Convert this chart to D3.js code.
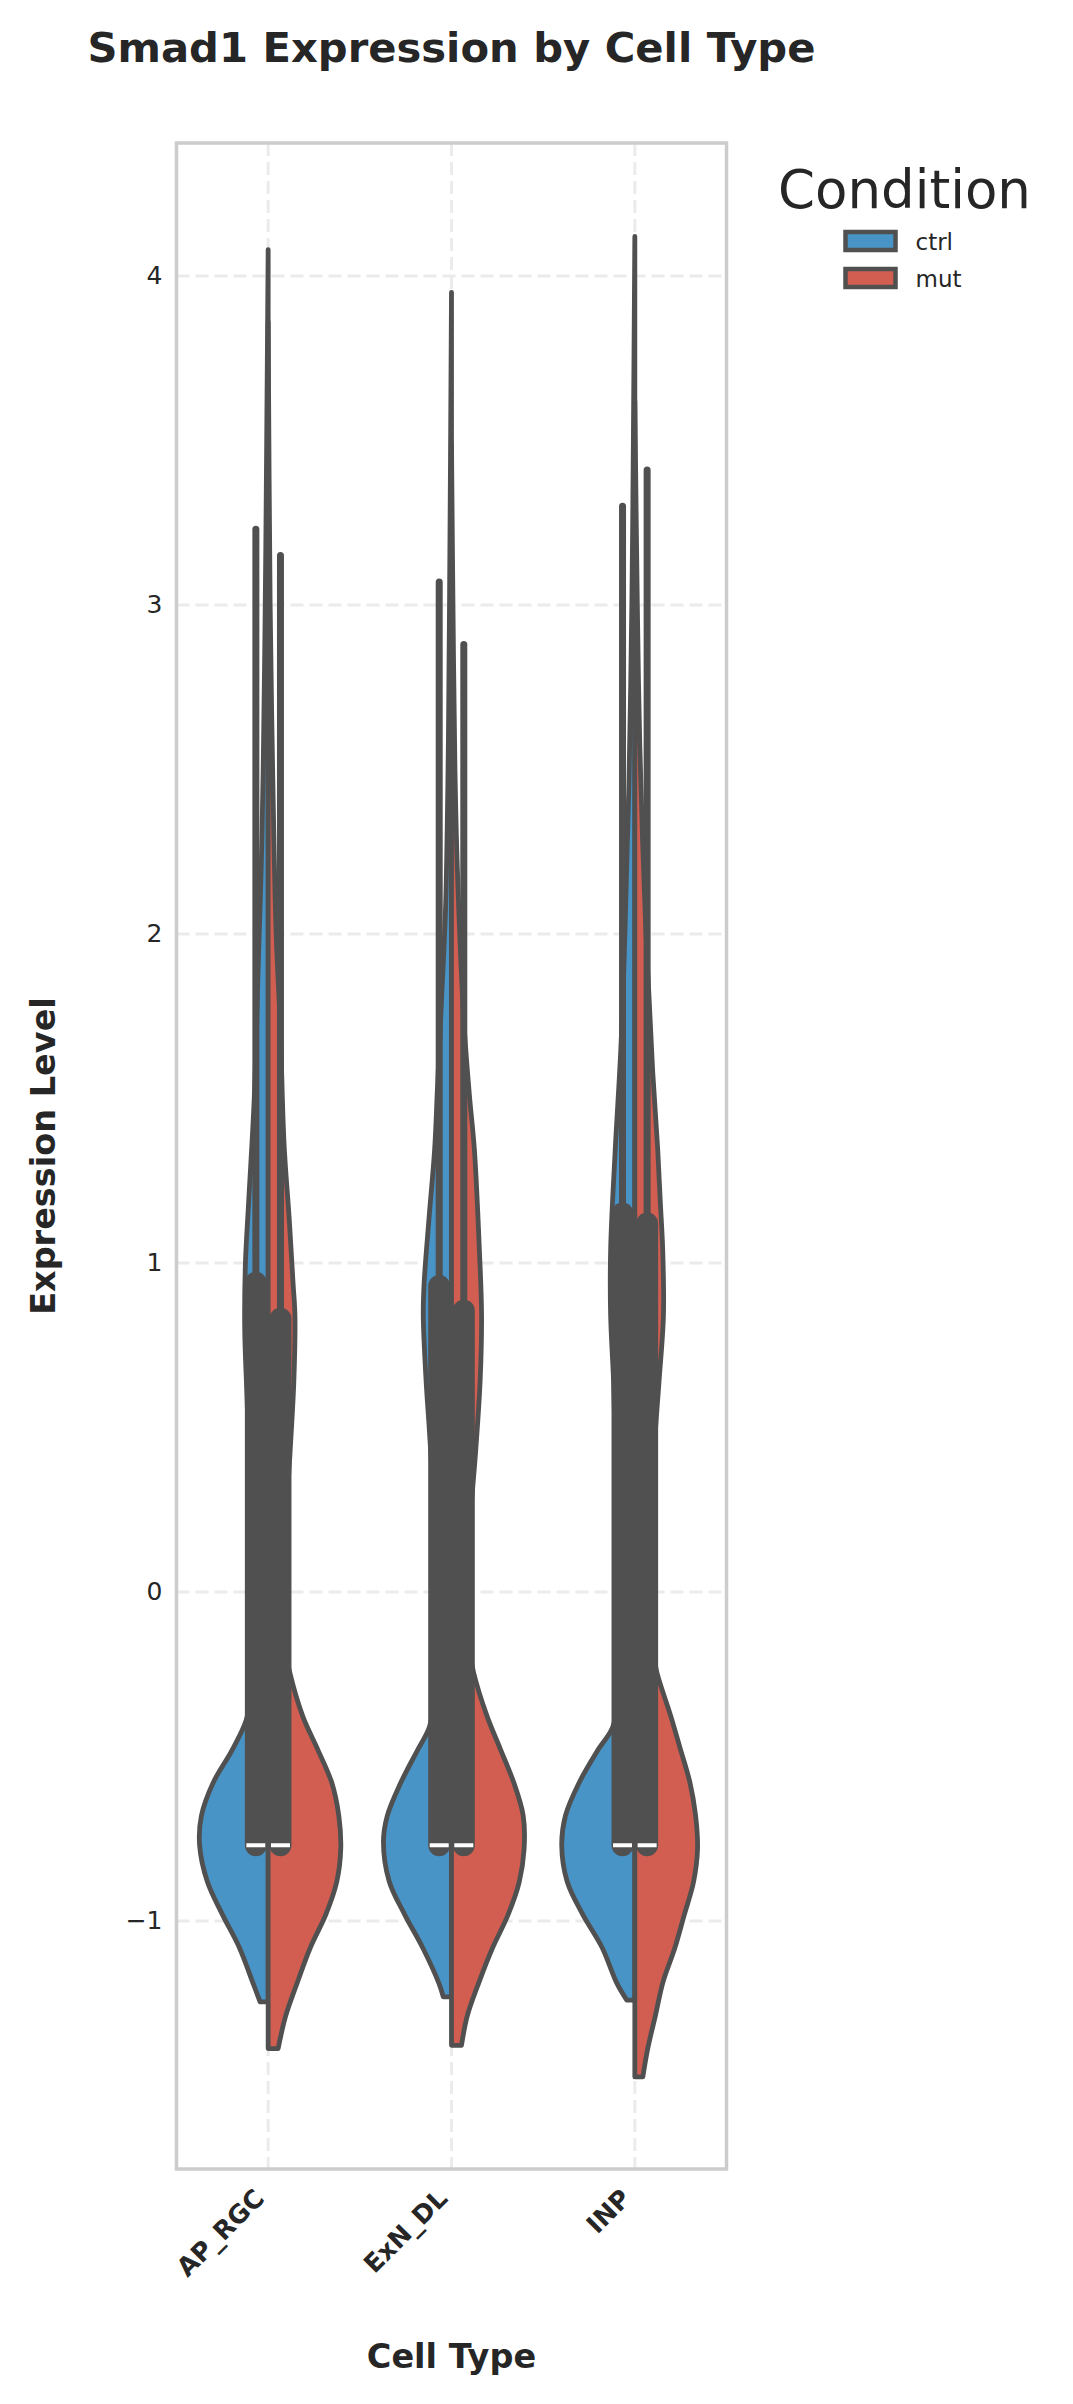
<!DOCTYPE html>
<html><head><meta charset="utf-8">
<script src="https://cdn.jsdelivr.net/npm/d3@7"></script>
<style>
body{margin:0;background:#fff}
svg{display:block}
text{font-family:"DejaVu Sans",sans-serif;fill:#262626}
</style>
</head><body>
<svg id="chart" width="1073" height="2404"></svg>
<script>
// ---------------- data ----------------
const categories = ["AP_RGC", "ExN_DL", "INP"];
const conditions = ["ctrl", "mut"];
const conditionColors = ["#4994C6", "#D25E52"];
const yTicks = [-1, 0, 1, 2, 3, 4];

// violin outlines: [expression value, relative density]
const apRgcCtrl = [[4.08,0],[3.5,0.02],[3.0,0.04],[2.5,0.068],[2.2,0.095],[1.9,0.136],[1.5,0.19],[1.19,0.265],[1.0,0.31],[0.8,0.32],[0.6,0.29],[0.4,0.26],[0.2,0.22],[-0.1,0.2],[-0.3,0.23],[-0.39,0.3],[-0.48,0.49],[-0.58,0.75],[-0.68,0.91],[-0.77,0.935],[-0.88,0.83],[-0.98,0.625],[-1.08,0.395],[-1.19,0.205],[-1.246,0.11]];
const apRgcMut = [[3.86,0],[3.0,0.027],[2.5,0.061],[2.0,0.109],[1.73,0.163],[1.36,0.217],[1.14,0.285],[0.94,0.339],[0.84,0.365],[0.64,0.35],[0.43,0.3],[0.2,0.24],[-0.05,0.21],[-0.18,0.24],[-0.25,0.3],[-0.38,0.475],[-0.48,0.678],[-0.58,0.868],[-0.68,0.963],[-0.78,0.99],[-0.88,0.936],[-0.98,0.787],[-1.08,0.577],[-1.19,0.393],[-1.29,0.237],[-1.388,0.136]];
const exnDlCtrl = [[3.95,0],[3.0,0.027],[2.5,0.047],[2.08,0.081],[1.8,0.136],[1.54,0.19],[1.345,0.23],[1.14,0.305],[0.94,0.373],[0.84,0.385],[0.64,0.346],[0.485,0.3],[0.25,0.24],[-0.1,0.2],[-0.3,0.23],[-0.41,0.3],[-0.48,0.461],[-0.58,0.692],[-0.68,0.875],[-0.76,0.928],[-0.88,0.849],[-0.98,0.64],[-1.08,0.396],[-1.19,0.171],[-1.231,0.112]];
const exnDlMut = [[3.49,0],[3.0,0.02],[2.5,0.047],[2.19,0.081],[1.73,0.17],[1.51,0.244],[1.345,0.312],[1.04,0.38],[0.84,0.41],[0.64,0.39],[0.43,0.33],[0.2,0.25],[-0.05,0.21],[-0.17,0.24],[-0.244,0.3],[-0.376,0.482],[-0.477,0.665],[-0.578,0.847],[-0.679,0.977],[-0.781,0.99],[-0.882,0.923],[-0.983,0.768],[-1.084,0.556],[-1.185,0.377],[-1.287,0.217],[-1.378,0.136]];
const inpCtrl = [[4.12,0],[3.5,0.02],[3.0,0.041],[2.45,0.081],[2.0,0.136],[1.655,0.19],[1.345,0.267],[1.04,0.33],[0.84,0.33],[0.64,0.29],[0.4,0.26],[0.15,0.22],[-0.1,0.2],[-0.3,0.23],[-0.41,0.3],[-0.48,0.502],[-0.58,0.76],[-0.68,0.946],[-0.77,0.997],[-0.88,0.923],[-0.98,0.711],[-1.08,0.448],[-1.19,0.244],[-1.241,0.109]];
const inpMut = [[3.62,0],[3.0,0.034],[2.57,0.068],[2.02,0.149],[1.58,0.244],[1.345,0.312],[1.19,0.346],[1.04,0.38],[0.84,0.39],[0.64,0.33],[0.45,0.27],[0.2,0.23],[-0.05,0.21],[-0.17,0.24],[-0.244,0.3],[-0.376,0.488],[-0.477,0.62],[-0.578,0.75],[-0.679,0.828],[-0.781,0.855],[-0.882,0.8],[-0.983,0.672],[-1.084,0.543],[-1.185,0.385],[-1.287,0.281],[-1.388,0.176],[-1.474,0.109]];

const ctrlViolins = [apRgcCtrl, exnDlCtrl, inpCtrl];
const mutViolins = [apRgcMut, exnDlMut, inpMut];

// inner box statistics per category
const ctrlQ1 = [-0.77, -0.77, -0.77];
const ctrlMedian = [-0.77, -0.77, -0.77];
const ctrlQ3 = [0.94, 0.93, 1.15];
const ctrlWhiskerLow = [-0.77, -0.77, -0.77];
const ctrlWhiskerHigh = [3.23, 3.07, 3.30];
const mutQ1 = [-0.77, -0.77, -0.77];
const mutMedian = [-0.77, -0.77, -0.77];
const mutQ3 = [0.83, 0.855, 1.12];
const mutWhiskerLow = [-0.77, -0.77, -0.77];
const mutWhiskerHigh = [3.15, 2.88, 3.41];

// ---------------- drawing ----------------
const svg = d3.select("#chart");
svg.append("rect").attr("width", 1073).attr("height", 2404).attr("fill", "#fff");

const plot = {left: 176.5, right: 726.5, top: 143, bottom: 2169};
const x = d3.scaleBand().domain(categories).range([plot.left, plot.right]).padding(0);
const y = d3.scaleLinear().domain([-1.754, 4.404]).range([plot.bottom, plot.top]);
const w = d3.scaleLinear().domain([0, 1]).range([0, x.bandwidth() * 0.4]);
const cx = c => x(c) + x.bandwidth() / 2;

const grid = svg.append("g");
grid.selectAll("line.h").data(yTicks).enter().append("line")
  .attr("x1", plot.left).attr("x2", plot.right)
  .attr("y1", d => y(d)).attr("y2", d => y(d))
  .attr("stroke", "#ebebeb").attr("stroke-width", 3).attr("stroke-dasharray", "13,6");
grid.selectAll("line.v").data(categories).enter().append("line")
  .attr("x1", d => cx(d)).attr("x2", d => cx(d))
  .attr("y1", plot.top).attr("y2", plot.bottom)
  .attr("stroke", "#ebebeb").attr("stroke-width", 3).attr("stroke-dasharray", "13,6");

const lineColor = "#505050";
const stats = [
  {violins: ctrlViolins, q1: ctrlQ1, med: ctrlMedian, q3: ctrlQ3, wl: ctrlWhiskerLow, wh: ctrlWhiskerHigh, side: -1},
  {violins: mutViolins, q1: mutQ1, med: mutMedian, q3: mutQ3, wl: mutWhiskerLow, wh: mutWhiskerHigh, side: 1}
];
const boxOffset = 12.3, boxWidth = 22, whiskerWidth = 7;

const vg = svg.append("g");
categories.forEach((cat, i) => {
  const c = cx(cat);
  stats.forEach((s, j) => {
    const area = d3.area()
      .curve(d3.curveCatmullRom.alpha(0.5))
      .y(d => y(d[0]))
      .x0(c)
      .x1(d => c + s.side * w(d[1]));
    vg.append("path").attr("d", area(s.violins[i]))
      .attr("fill", conditionColors[j])
      .attr("stroke", lineColor).attr("stroke-width", 4.8)
      .attr("stroke-linejoin", "round");
    const bx = c + s.side * boxOffset;
    vg.append("line").attr("x1", bx).attr("x2", bx)
      .attr("y1", y(s.wl[i])).attr("y2", y(s.wh[i]))
      .attr("stroke", lineColor).attr("stroke-width", whiskerWidth).attr("stroke-linecap", "round");
    vg.append("line").attr("x1", bx).attr("x2", bx)
      .attr("y1", y(s.q1[i])).attr("y2", y(s.q3[i]))
      .attr("stroke", lineColor).attr("stroke-width", boxWidth).attr("stroke-linecap", "round");
    vg.append("line").attr("x1", bx - 9.5).attr("x2", bx + 9.5)
      .attr("y1", y(s.med[i])).attr("y2", y(s.med[i]))
      .attr("stroke", "#ffffff").attr("stroke-width", 4);
  });
});

// frame
svg.append("rect").attr("x", plot.left).attr("y", plot.top)
  .attr("width", plot.right - plot.left).attr("height", plot.bottom - plot.top)
  .attr("fill", "none").attr("stroke", "#cccccc").attr("stroke-width", 3.5);

// y tick labels
const yAxis = d3.axisLeft(y).tickValues(yTicks).tickSize(0).tickPadding(14)
  .tickFormat(d => d < 0 ? "\u2212" + Math.abs(d) : String(d));
const yg = svg.append("g").attr("transform", `translate(${plot.left},0)`).call(yAxis);
yg.select(".domain").remove();
yg.selectAll("text").style("font-size", "25px").attr("fill", "#262626")
  .style("font-family", '"DejaVu Sans",sans-serif');

// x tick labels
svg.append("g").selectAll("text").data(categories).enter().append("text")
  .attr("transform", d => `translate(${cx(d) - 2.5},2200) rotate(-45)`)
  .attr("text-anchor", "end")
  .style("font-size", "25.5px").style("font-weight", "bold")
  .text(d => d);

// titles
svg.append("text").attr("x", (plot.left + plot.right) / 2).attr("y", 62)
  .attr("text-anchor", "middle").style("font-size", "41.7px").style("font-weight", "bold")
  .text("Smad1 Expression by Cell Type");
svg.append("text").attr("x", (plot.left + plot.right) / 2).attr("y", 2368)
  .attr("text-anchor", "middle").style("font-size", "33.5px").style("font-weight", "bold")
  .text("Cell Type");
svg.append("text").attr("transform", `translate(55,${(plot.top + plot.bottom) / 2}) rotate(-90)`)
  .attr("text-anchor", "middle").style("font-size", "33.5px").style("font-weight", "bold")
  .text("Expression Level");

// legend
const lg = svg.append("g");
lg.append("text").attr("x", 778).attr("y", 208).style("font-size", "53px").text("Condition");
const legendY = d3.scaleBand().domain(conditions).range([232, 306]);
conditions.forEach((cond, j) => {
  const yy = legendY(cond);
  lg.append("rect").attr("x", 845.5).attr("y", yy).attr("width", 50).attr("height", 18)
    .attr("fill", conditionColors[j]).attr("stroke", lineColor).attr("stroke-width", 4.5);
  lg.append("text").attr("x", 915.5).attr("y", yy + 18).style("font-size", "23px").text(cond);
});
</script>
</body></html>
